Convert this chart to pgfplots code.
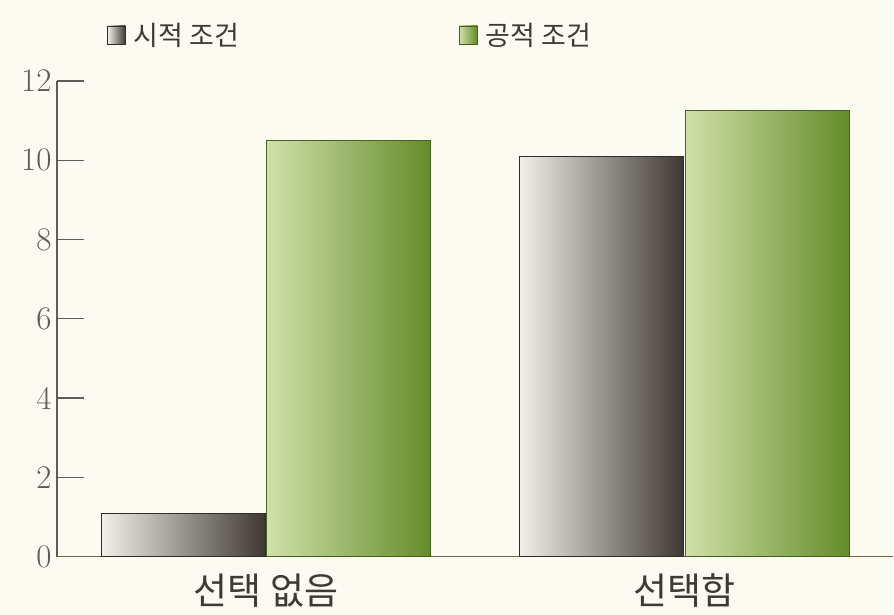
\documentclass[border=0pt]{standalone}
\usepackage{pgfplots}
\pgfplotsset{compat=1.18}
\usepackage{fontspec}
\setmainfont{Latin Modern Roman}
\newfontfamily\kr{Noto Sans CJK KR}
\definecolor{bg}{RGB}{251,251,242}
\definecolor{txt}{RGB}{60,58,55}
\definecolor{axc}{RGB}{95,92,88}
\definecolor{grayL}{RGB}{240,240,232}
\definecolor{grayM}{RGB}{165,162,155}
\definecolor{grayD}{RGB}{62,56,50}
\definecolor{greenL}{RGB}{208,224,170}
\definecolor{greenM}{RGB}{150,185,90}
\definecolor{greenD}{RGB}{100,140,40}
\begin{document}
\begin{tikzpicture}
\fill[bg] (-57pt,-58pt) rectangle (837pt,557pt);
\begin{axis}[
  at={(0,0)}, anchor=south west,
  scale only axis, width=837pt, height=476pt,
  ybar=1.5pt, bar width=164pt,
  xmin=-0.5, xmax=1.5, ymin=0, ymax=12,
  ytick={0,2,...,12},
  xtick={0,1}, xticklabels={선택 없음,선택함},
  x tick label style={font=\kr\fontsize{37}{40}\selectfont, text=txt, yshift=-14pt},
  y tick label style={font=\fontsize{33}{36}\selectfont, text=axc, xshift=-2pt},
  /pgf/number format/assume math mode=true,
  axis x line=bottom, axis y line=left,
  axis line style={draw=axc, line width=1.2pt, -},
  x axis line style={draw=axc!80!orange},
  major tick length=27pt,
  ytick style={draw=axc, line width=1.2pt},
  xtick style={draw=none},
  tick align=inside,
  legend columns=2,
  legend style={at={(47pt,522pt)}, anchor=west, draw=none, fill=none,
    font=\kr\fontsize{27}{30}\selectfont, text=txt,
    /tikz/every even column/.append style={column sep=218pt}},
  legend image code/.code={\draw[#1, line width=0.6pt] (0pt,-9pt) rectangle (18pt,9pt);\path (24pt,0pt);},
  gstyle/.style={draw=grayD!80!black, line width=0.8pt, left color=grayL, middle color=grayM, right color=grayD, bar shift=-82.75pt},
  nstyle/.style={draw=greenD!70!black, line width=0.8pt, left color=greenL, middle color=greenM, right color=greenD, bar shift=82.75pt},
]
\addplot[gstyle] coordinates {(0,1.1)};
\addplot[nstyle] coordinates {(0,10.5)};
\addplot[gstyle, forget plot] coordinates {(1,10.1)};
\addplot[nstyle, forget plot] coordinates {(1,11.25)};
\legend{시적 조건,공적 조건}
\end{axis}
\end{tikzpicture}
\end{document}
